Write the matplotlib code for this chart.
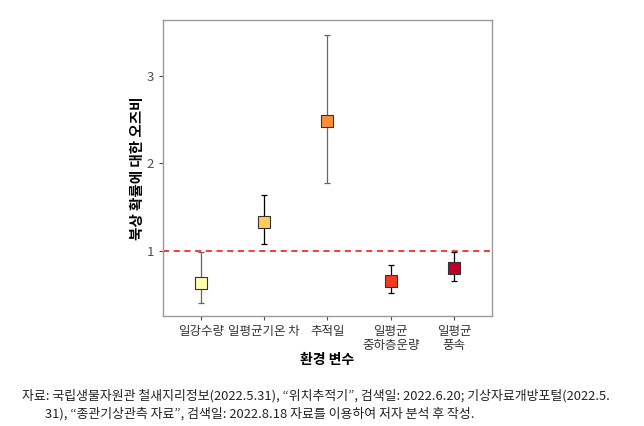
import numpy as np
import matplotlib.pyplot as plt

plt.rcParams['font.family'] = ['Noto Sans CJK KR', 'DejaVu Sans']

# 데이터
labels = ['일강수량', '일평균기온 차', '추적일', '일평균\n중하층운량', '일평균\n풍속']
odds = [0.63, 1.33, 2.48, 0.65, 0.80]
lower = [0.40, 1.07, 1.77, 0.51, 0.65]
upper = [0.98, 1.64, 3.47, 0.83, 0.98]
colors = ['#FFFFB2', '#FECC5C', '#FD8D3C', '#F03B20', '#BD0026']
bar_colors = ['#666666', '#000000', '#666666', '#000000', '#000000']

caption = ('자료: 국립생물자원관 철새지리정보(2022.5.31), “위치추적기”, 검색일: 2022.6.20; 기상자료개방포털(2022.5.\n'
           '        31), “종관기상관측 자료”, 검색일: 2022.8.18 자료를 이용하여 저자 분석 후 작성.')

fig = plt.figure(figsize=(6.44, 4.26), dpi=100)
ax = fig.add_axes([0.253, 0.258, 0.511, 0.695])

x = np.arange(1, len(labels) + 1)
for i in range(len(labels)):
    ax.errorbar(x[i], odds[i],
                yerr=[[odds[i] - lower[i]], [upper[i] - odds[i]]],
                fmt='none', ecolor=bar_colors[i], elinewidth=0.9,
                capsize=2, capthick=0.9, zorder=2)
    ax.scatter(x[i], odds[i], marker='s', s=75, color=colors[i],
               edgecolors='#333333', linewidths=0.8, zorder=3)

ax.axhline(1, color='red', linestyle=(0, (4, 3)), linewidth=1.1, zorder=1)

ax.set_xlim(0.4, 5.6)
ax.set_ylim(0.25, 3.64)
ax.set_xticks(x)
ax.set_xticklabels(labels, fontsize=9, color='#333333', linespacing=1.05)
ax.set_yticks([1, 2, 3])
ax.tick_params(axis='y', labelsize=9.5, labelcolor='#4d4d4d', color='#4d4d4d', length=3)
ax.tick_params(axis='x', color='#4d4d4d', length=3)
for s in ax.spines.values():
    s.set_color('#999999')
    s.set_linewidth(1)

ax.set_xlabel('환경 변수', fontsize=10, fontweight='bold', labelpad=1)
ax.set_ylabel('북상 확률에 대한 오즈비', fontsize=10.5, fontweight='bold', labelpad=1)

fig.text(0.034, 0.012, caption, fontsize=9.3, color='#222222', ha='left', va='bottom',
         linespacing=1.45)

fig.savefig('out.png', dpi=100)
